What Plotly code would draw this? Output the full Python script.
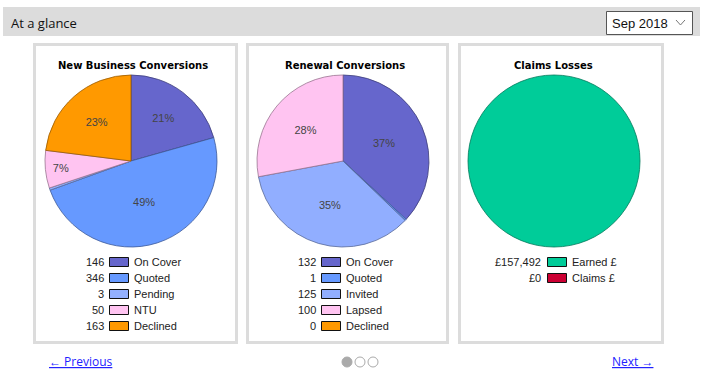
import plotly.graph_objects as go

W, H = 705, 375

# ---------------- data ----------------
nb_labels = ["On Cover", "Quoted", "Pending", "NTU", "Declined"]
nb_values = [146, 346, 3, 50, 163]
nb_colors = ["#6666cc", "#6699ff", "#93b0ff", "#ffc4f1", "#ff9900"]

rn_labels = ["On Cover", "Quoted", "Invited", "Lapsed", "Declined"]
rn_values = [132, 1, 125, 100, 0]
rn_colors = ["#6666cc", "#6699ff", "#91aeff", "#ffc4f1", "#ff9900"]

cl_labels = ["Earned £", "Claims £"]
cl_values = [157492, 0]
cl_colors = ["#00cc99", "#cc0033"]

titles = ["New Business Conversions", "Renewal Conversions", "Claims Losses"]
header_title = "At a glance"
month_label = "Sep 2018"


def px(x):
    return x / W


def py(y):
    return 1 - y / H


def darker(hexc, f=0.6):
    h = hexc.lstrip("#")
    r, g, b = int(h[0:2], 16), int(h[2:4], 16), int(h[4:6], 16)
    return "rgb(%d,%d,%d)" % (r * f, g * f, b * f)


fig = go.Figure()
shapes = []
annotations = []

# header band
shapes.append(dict(type="rect", xref="paper", yref="paper",
                   x0=px(3), x1=px(700), y0=py(36), y1=py(7),
                   fillcolor="#dcdcdc", line=dict(width=0), layer="below"))
annotations.append(dict(x=px(9), y=py(22.5), xref="paper", yref="paper",
                        text=header_title, showarrow=False, xanchor="left", yanchor="middle",
                        font=dict(family="Open Sans", size=13, color="#111")))
# dropdown
shapes.append(dict(type="rect", xref="paper", yref="paper",
                   x0=px(606.5), x1=px(692.5), y0=py(34.5), y1=py(11.5),
                   fillcolor="white", line=dict(color="#555", width=1)))
annotations.append(dict(x=px(610), y=py(23), xref="paper", yref="paper",
                        text=month_label, showarrow=False, xanchor="left", yanchor="middle",
                        font=dict(family="Liberation Sans", size=13, color="#111")))
shapes.append(dict(type="path", xref="paper", yref="paper",
                   path="M %f %f L %f %f L %f %f" % (px(676), py(20), px(680.5), py(25), px(685), py(20)),
                   line=dict(color="#777", width=1)))

# panels
panels = [(34.5, 236.5), (247.5, 447.5), (459.5, 662.5)]
for x0, x1 in panels:
    shapes.append(dict(type="rect", xref="paper", yref="paper",
                       x0=px(x0), x1=px(x1), y0=py(342.5), y1=py(44.5),
                       fillcolor="white", line=dict(color="#dcdcdc", width=3), layer="below"))

centers = [131, 343, 554]
title_x = [133, 345, 553]
R = 86
CY = 161

datasets = [
    (nb_labels, nb_values, nb_colors, True),
    (rn_labels, rn_values, rn_colors, True),
    (cl_labels, cl_values, cl_colors, False),
]

for i, (labs, vals, cols, show_pct) in enumerate(datasets):
    total = sum(vals)
    keep = [k for k, v in enumerate(vals) if v > 0]
    texts = []
    for k in keep:
        frac = vals[k] / total
        texts.append("%d%%" % round(frac * 100) if (show_pct and frac > 0.03) else "")
    kcols = [cols[k] for k in keep]
    cx = centers[i]
    fig.add_trace(go.Pie(
        labels=[labs[k] for k in keep], values=[vals[k] for k in keep],
        sort=False, direction="clockwise", rotation=0,
        marker=dict(colors=kcols, line=dict(color=[darker(c) for c in kcols], width=0.8)),
        text=texts, textinfo="text", textposition="inside",
        insidetextorientation="horizontal",
        textfont=dict(family="Liberation Sans", size=11, color="#444"),
        hoverinfo="skip", showlegend=False,
        domain=dict(x=[px(cx - R), px(cx + R)], y=[py(CY + R), py(CY - R)]),
    ))
    annotations.append(dict(x=px(title_x[i]), y=py(65), xref="paper", yref="paper",
                            text="<b>%s</b>" % titles[i], showarrow=False,
                            xanchor="center", yanchor="middle",
                            font=dict(family="DejaVu Sans", size=10, color="#000")))

# legends
legend_geo = [(106, 109, 128, 132), (318, 321, 340, 344), (543, 547, 566, 570)]
value_texts = [
    [str(v) for v in nb_values],
    [str(v) for v in rn_values],
    ["£{:,}".format(v) for v in cl_values],
]
for i, (labs, vals, cols, _) in enumerate(datasets):
    vx, sx0, sx1, lx = legend_geo[i]
    for j, lab in enumerate(labs):
        yc = 262 + 16 * j
        annotations.append(dict(x=px(vx), y=py(yc), xref="paper", yref="paper",
                                text=value_texts[i][j], showarrow=False,
                                xanchor="right", yanchor="middle",
                                font=dict(family="Liberation Sans", size=11, color="#222")))
        shapes.append(dict(type="rect", xref="paper", yref="paper",
                           x0=px(sx0 + 0.5), x1=px(sx1 + 0.5), y0=py(yc + 4.5), y1=py(yc - 4.5),
                           fillcolor=cols[j], line=dict(color="#111", width=1)))
        annotations.append(dict(x=px(lx), y=py(yc), xref="paper", yref="paper",
                                text=lab, showarrow=False,
                                xanchor="left", yanchor="middle",
                                font=dict(family="Liberation Sans", size=11, color="#222")))

# footer
annotations.append(dict(x=px(47), y=py(361), xref="paper", yref="paper",
                        text="<u>← Previous</u>", showarrow=False, xanchor="left", yanchor="middle",
                        font=dict(family="Open Sans", size=12, color="#2222ff")))
annotations.append(dict(x=px(655), y=py(361), xref="paper", yref="paper",
                        text="<u>Next →</u>", showarrow=False, xanchor="right", yanchor="middle",
                        font=dict(family="Open Sans", size=12, color="#2222ff")))
for k, dx in enumerate([347, 360, 373]):
    shapes.append(dict(type="circle", xref="paper", yref="paper",
                       x0=px(dx - 5), x1=px(dx + 5), y0=py(367), y1=py(357),
                       fillcolor="#aaaaaa" if k == 0 else "white",
                       line=dict(color="#aaaaaa", width=1)))

fig.update_layout(width=W, height=H, margin=dict(l=0, r=0, t=0, b=0),
                  paper_bgcolor="white", plot_bgcolor="white",
                  shapes=shapes, annotations=annotations)

fig.write_html("out.html", config={"displayModeBar": False, "staticPlot": True},
               post_script="document.body.style.margin='0';document.body.style.overflow='hidden';")
